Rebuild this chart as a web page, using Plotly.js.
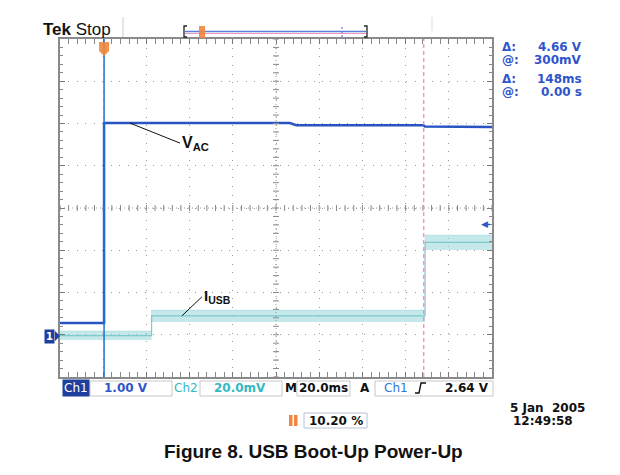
<!DOCTYPE html>
<html><head><meta charset="utf-8">
<script src="https://cdn.plot.ly/plotly-3.0.1.min.js"></script>
<style>html,body{margin:0;padding:0;background:#fff}#chart{width:620px;height:475px}</style>
</head><body><div id="chart"></div>
<script>
// ---- data ----
// Ch1 (V_AC), volts, time in ms relative to trigger
const ch1Time  = [-20.4, 0, 0, 86, 89, 147.8, 148.6, 179.6];
const ch1Volts = [0.31, 0.31, 5.04, 5.04, 4.99, 4.99, 4.96, 4.95];
// Ch2 (I_USB), mV: noisy band (low / high envelope) and its centre
const ch2Time = [-20.4, 22, 22, 148.6, 148.6, 179.6];
const ch2Low  = [-1.9, -1.9, 6.6, 6.6, 40.7, 40.7];
const ch2High = [2.4, 2.4, 12.3, 12.3, 47.8, 47.8];
const ch2Mid  = [0.2, 0.2, 9.5, 9.5, 44.3, 44.3];
// cursors (ms) and trigger level (V)
const cursorTimes = [0, 148];
const triggerLevel = 2.64;
// readout texts
const readoutLabels = ['Δ:', '@:', 'Δ:', '@:'];
const readoutValues = ['4.66 V', '300mV', '148ms', '0.00 s'];
const chLabels = ['Ch1', 'Ch2'];
const chScales = ['1.00 V', '20.0mV'];
const timeBase = '20.0ms';
const trigSource = 'Ch1';
const trigLevelText = '2.64 V';
const trigPosText = '10.20 %';
const dateText = '5 Jan  2005';
const timeText = '12:49:58';
const traceNames = ['V<sub>AC</sub>', 'I<sub>USB</sub>'];
const titleText = '<b>Figure 8. USB Boot-Up Power-Up</b>';

// ---- geometry helpers (pixels -> paper) ----
const L = 60, R = 492, T = 39, B = 377;
const px = X => (X - L) / (R - L);
const py = Y => (B - Y) / (B - T);

const xRange = [-20.4, 179.6];
const yRange = [-0.970, 7.030];
const y2Range = [-19.4, 140.6];
const xC = (xRange[0] + xRange[1]) / 2, yC = (yRange[0] + yRange[1]) / 2;

const BLUE = 'rgb(40,85,195)', CYAN = 'rgb(120,200,205)', TBLUE = '#2f55cc';
const FONT = 'DejaVu Sans';

const traces = [
  {x: ch2Time, y: ch2Low, yaxis: 'y2', mode: 'lines', line: {width: 0, color: CYAN}, hoverinfo: 'skip', showlegend: false},
  {x: ch2Time, y: ch2High, yaxis: 'y2', mode: 'lines', fill: 'tonexty', fillcolor: 'rgba(150,214,216,0.55)', line: {width: 0.5, color: 'rgba(120,200,205,0.5)'}, hoverinfo: 'skip', showlegend: false},
  {x: ch2Time, y: ch2Mid, yaxis: 'y2', mode: 'lines', line: {width: 1.2, color: 'rgba(100,190,195,0.75)'}, showlegend: false},
  {x: ch1Time, y: ch1Volts, mode: 'lines', line: {width: 2.5, color: BLUE}, showlegend: false}
];

const shapes = [];
// centre cross-hair with small ticks
shapes.push({type: 'line', xref: 'x', yref: 'paper', x0: xC, x1: xC, y0: 0, y1: 1, line: {color: '#999', width: 1, dash: '1px,3px'}});
shapes.push({type: 'line', xref: 'paper', yref: 'y', x0: 0, x1: 1, y0: yC, y1: yC, line: {color: '#999', width: 1, dash: '1px,3px'}});
for (let i = 0; i <= 50; i++) {
  const xv = xRange[0] + i * 4;
  shapes.push({type: 'line', xref: 'x', yref: 'y', x0: xv, x1: xv, ysizemode: 'pixel', yanchor: yC, y0: -3, y1: 3, line: {color: '#888', width: 1}});
}
for (let i = 0; i <= 40; i++) {
  const yv = yRange[0] + i * 0.2;
  shapes.push({type: 'line', xref: 'x', yref: 'y', y0: yv, y1: yv, xsizemode: 'pixel', xanchor: xC, x0: -3, x1: 3, line: {color: '#888', width: 1}});
}
// cursors
shapes.push({type: 'line', xref: 'x', yref: 'paper', x0: cursorTimes[0], x1: cursorTimes[0], y0: 0, y1: 1, line: {color: 'rgb(30,115,210)', width: 1.5}});
shapes.push({type: 'line', xref: 'x', yref: 'paper', x0: cursorTimes[1], x1: cursorTimes[1], y0: 0, y1: 1, line: {color: 'rgb(240,140,190)', width: 1.3, dash: '4px,3px'}});
// trigger position marker (orange) at top
shapes.push({type: 'path', xref: 'x', yref: 'paper', xsizemode: 'pixel', xanchor: cursorTimes[0], ysizemode: 'pixel', yanchor: 1,
  path: 'M-5,-3 L5,-3 L5,-12 L0,-17 L-5,-12 Z', fillcolor: 'rgba(240,135,60,0.9)', line: {width: 0}});
// record bar at the top
shapes.push({type: 'line', xref: 'paper', yref: 'paper', x0: px(185), x1: px(366), y0: py(31.5), y1: py(31.5), line: {color: 'rgb(90,130,220)', width: 1.6}});
shapes.push({type: 'line', xref: 'paper', yref: 'paper', x0: px(185), x1: px(366), y0: py(33.5), y1: py(33.5), line: {color: 'rgb(240,150,190)', width: 1}});
[[184, 1], [367, -1]].forEach(([X, d]) => {
  shapes.push({type: 'path', xref: 'paper', yref: 'paper',
    path: `M${px(X + 3 * d)},${py(26)} L${px(X)},${py(26)} L${px(X)},${py(37)} L${px(X + 3 * d)},${py(37)}`, line: {color: '#222', width: 1.3}});
});
shapes.push({type: 'rect', xref: 'paper', yref: 'paper', x0: px(199), x1: px(205), y0: py(38), y1: py(26), fillcolor: 'rgba(240,135,60,0.9)', line: {width: 0}});
shapes.push({type: 'line', xref: 'paper', yref: 'paper', x0: px(342), x1: px(342), y0: py(27), y1: py(37), line: {color: 'rgb(90,130,220)', width: 1.2, dash: '2px,2px'}});
shapes.push({type: 'line', xref: 'paper', yref: 'paper', x0: px(123), x1: px(123), y0: py(17), y1: py(37), line: {color: '#ccc', width: 1}});
shapes.push({type: 'line', xref: 'paper', yref: 'paper', x0: px(432), x1: px(432), y0: py(17), y1: py(31), line: {color: '#ddd', width: 1}});
// bottom readout boxes
[[90, 172], [200, 282], [297, 350], [375, 493]].forEach(([a, b]) => {
  shapes.push({type: 'rect', xref: 'paper', yref: 'paper', x0: px(a), x1: px(b), y0: py(396), y1: py(381), line: {color: '#c8c8c8', width: 1}});
});
// trigger slope symbol
shapes.push({type: 'path', xref: 'paper', yref: 'paper',
  path: `M${px(415)},${py(393)} L${px(419)},${py(393)} L${px(421)},${py(383)} L${px(426)},${py(383)}`, line: {color: '#111', width: 1.4}});
// trigger position box
shapes.push({type: 'rect', xref: 'paper', yref: 'paper', x0: px(304), x1: px(367), y0: py(428), y1: py(413), line: {color: '#b8c0d0', width: 1}});
shapes.push({type: 'rect', xref: 'paper', yref: 'paper', x0: px(289), x1: px(292.5), y0: py(426), y1: py(415), fillcolor: 'rgb(240,135,60)', line: {width: 0}});
shapes.push({type: 'rect', xref: 'paper', yref: 'paper', x0: px(294), x1: px(297.5), y0: py(426), y1: py(415), fillcolor: 'rgb(240,135,60)', line: {width: 0}});
// ground marker arrow of Ch1 (left)
shapes.push({type: 'path', xref: 'paper', yref: 'y', ysizemode: 'pixel', yanchor: 0,
  path: `M${px(55)},5 L${px(60)},0 L${px(55)},-5 Z`, fillcolor: '#1e3f9e', line: {width: 0}});
// trigger level marker (right): small line behind the arrow
shapes.push({type: 'line', xref: 'paper', yref: 'y', ysizemode: 'pixel', yanchor: triggerLevel,
  x0: px(484), x1: px(490), y0: 0, y1: 0, line: {color: 'rgb(45,90,200)', width: 1.5}});

const A = (o) => Object.assign({showarrow: false, xref: 'paper', yref: 'paper', xanchor: 'center', yanchor: 'middle',
  font: {family: FONT, size: 12, color: '#111'}}, o);
const annotations = [
  A({x: px(41), y: py(30), xanchor: 'left', text: '<b>Tek</b> Stop', font: {family: 'Liberation Sans', size: 17, color: '#111'}}),
  // right readouts
  ...readoutLabels.map((t, i) => A({x: px(500), y: py([47, 60, 79, 92][i]), xanchor: 'left', text: '<b>' + t + '</b>', font: {family: FONT, size: 12, color: TBLUE}})),
  ...readoutValues.map((t, i) => A({x: px(584), y: py([47, 60, 79, 92][i]), xanchor: 'right', text: '<b>' + t + '</b>', font: {family: FONT, size: 12, color: TBLUE}})),
  // bottom bar
  A({x: px(76), y: py(388.5), text: chLabels[0], bgcolor: '#1e3f9e', borderpad: 1, font: {family: FONT, size: 12, color: '#fff'}}),
  A({x: px(126), y: py(388.5), text: '<b>' + chScales[0] + '</b>', font: {family: FONT, size: 12, color: TBLUE}}),
  A({x: px(186), y: py(388.5), text: chLabels[1], font: {family: FONT, size: 12, color: 'rgb(50,185,195)'}}),
  A({x: px(240), y: py(388.5), text: '<b>' + chScales[1] + '</b>', font: {family: FONT, size: 12, color: 'rgb(50,185,195)'}}),
  A({x: px(291), y: py(388.5), text: '<b>M</b>', font: {family: FONT, size: 12, color: '#111'}}),
  A({x: px(323.5), y: py(388.5), text: '<b>' + timeBase + '</b>', font: {family: FONT, size: 12, color: '#111'}}),
  A({x: px(365), y: py(388.5), text: '<b>A</b>', font: {family: FONT, size: 12, color: '#111'}}),
  A({x: px(396), y: py(388.5), text: trigSource, font: {family: FONT, size: 12, color: 'rgb(45,120,220)'}}),
  A({x: px(491), y: py(388.5), xanchor: 'right', text: '<b>' + trigLevelText + '</b>', font: {family: FONT, size: 12, color: '#111'}}),
  A({x: px(307), y: py(420.5), xanchor: 'left', text: '<b>' + trigPosText + '</b>', font: {family: FONT, size: 12, color: '#111'}}),
  A({x: px(547), y: py(408), text: '<b>' + dateText + '</b>', font: {family: FONT, size: 12, color: '#111'}}),
  A({x: px(543), y: py(421), text: '<b>' + timeText + '</b>', font: {family: FONT, size: 12, color: '#111'}}),
  // ground marker label
  A({x: px(49.5), y: 0, yref: 'y', text: '<b>1</b>', bgcolor: '#1e3f9e', borderpad: 1, font: {family: FONT, size: 10, color: '#fff'}}),
  // trigger level marker (right)
  A({x: px(484), y: triggerLevel, yref: 'y', text: '◀', font: {family: FONT, size: 9, color: 'rgb(45,90,200)'}}),
  // trace labels with leaders
  {x: 12, y: ch1Volts[2], xref: 'x', yref: 'y', ax: 50, ay: 20, showarrow: true, arrowhead: 0, arrowwidth: 1, arrowcolor: '#111', standoff: 0,
   xanchor: 'left', text: '<b>' + traceNames[0] + '</b>', font: {family: 'Liberation Sans', size: 16, color: '#111'}},
  {x: 36, y: ch2Mid[2], xref: 'x', yref: 'y2', ax: 20, ay: -19, showarrow: true, arrowhead: 0, arrowwidth: 1, arrowcolor: '#111', standoff: 0,
   xanchor: 'left', text: '<b>' + traceNames[1] + '</b>', font: {family: 'Liberation Sans', size: 15, color: '#111'}},
  // figure title
  A({x: px(313), y: py(452), text: titleText, font: {family: 'Liberation Sans', size: 19, color: '#111'}})
];

const axisCommon = {showticklabels: false, ticks: 'inside', ticklen: 5, tickcolor: '#777', tickwidth: 1,
  mirror: 'allticks', showline: true, linecolor: '#8a8a8a', linewidth: 2, showgrid: true, gridcolor: '#9a9a9a',
  gridwidth: 1, zeroline: false, fixedrange: true};

const layout = {
  width: 620, height: 475,
  margin: {l: L, r: 620 - R, t: T, b: 475 - B, pad: 0},
  paper_bgcolor: '#fff', plot_bgcolor: '#fff', showlegend: false,
  xaxis: Object.assign({}, axisCommon, {range: xRange, tick0: xRange[0], dtick: 20, griddash: '1px,7.64px',
    minor: {tick0: xRange[0], dtick: 4, ticks: 'inside', ticklen: 3, tickcolor: '#888', showgrid: false}}),
  yaxis: Object.assign({}, axisCommon, {range: yRange, tick0: yRange[0], dtick: 1, griddash: '1px,7.45px',
    minor: {tick0: yRange[0], dtick: 0.2, ticks: 'inside', ticklen: 3, tickcolor: '#888', showgrid: false}}),
  yaxis2: {range: y2Range, overlaying: 'y', visible: false, fixedrange: true},
  shapes: shapes, annotations: annotations
};

Plotly.newPlot('chart', traces, layout, {staticPlot: true, displayModeBar: false});
</script></body></html>
